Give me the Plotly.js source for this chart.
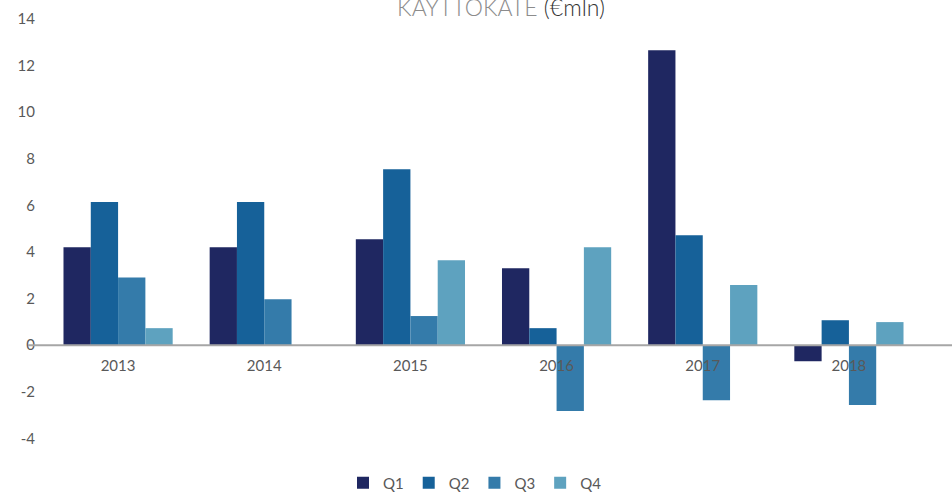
<!DOCTYPE html>
<html>
<head>
<meta charset="utf-8">
<script src="https://cdn.plot.ly/plotly-3.0.1.min.js"></script>
<style>html,body{margin:0;padding:0;background:#fff;}#chart{width:952px;height:493px;}</style>
</head>
<body>
<div id="chart"></div>
<script>
const years = ['2013', '2014', '2015', '2016', '2017', '2018'];
const seriesNames = ['Q1', 'Q2', 'Q3', 'Q4'];
const q1 = [4.2, 4.2, 4.55, 3.3, 12.66, -0.69];
const q2 = [6.15, 6.15, 7.55, 0.73, 4.72, 1.07];
const q3 = [2.9, 1.97, 1.25, -2.83, -2.36, -2.57];
const q4 = [0.73, null, 3.65, 4.2, 2.58, 0.99];
const yTicks = [-4, -2, 0, 2, 4, 6, 8, 10, 12, 14];
const colors = ['#1F2761', '#166199', '#347BAA', '#5EA2BF'];

const values = [q1, q2, q3, q4];
const traces = seriesNames.map((n, i) => ({
  type: 'bar', name: n, x: years, y: values[i],
  marker: {color: colors[i], line: {width: 0}},
  hoverinfo: 'x+y+name'
}));

const L = 45, R = 30, W = 952 - L - R;
const layout = {
  width: 952, height: 493,
  margin: {l: L, r: R, t: 19, b: 43, autoexpand: false},
  paper_bgcolor: '#ffffff', plot_bgcolor: '#ffffff',
  font: {family: 'Lato, "Open Sans", sans-serif', size: 15, color: '#595959'},
  title: {
    text: 'KÄYTTÖKATE <span style="color:#333333">(€mln)</span>',
    font: {size: 23, color: '#8C8C8C', family: 'Lato, "Open Sans", sans-serif', weight: 300},
    x: 501/952, xanchor: 'center', xref: 'container',
    y: 1 - 8/493, yanchor: 'middle', yref: 'container'
  },
  barmode: 'group', bargap: 0.253, bargroupgap: 0,
  xaxis: {
    type: 'category', domain: [0, 1], anchor: 'free', position: 4.5/18.5,
    showline: false, showgrid: false, zeroline: false, ticks: '',
    ticklabelstandoff: 10, automargin: false,
    tickfont: {size: 15, color: '#595959'}
  },
  yaxis: {
    domain: [0, 1], anchor: 'free', position: 0,
    range: [-4.5, 14], tickvals: yTicks, ticktext: yTicks.map(String),
    showgrid: false, zeroline: false, showline: false, ticks: '',
    ticklabelstandoff: 10, automargin: false,
    tickfont: {size: 15, color: '#595959'}
  },
  shapes: [{
    type: 'line', xref: 'paper', yref: 'y', x0: -17/W, x1: 1 + 30/W, y0: 0, y1: 0,
    line: {color: '#A6A6A6', width: 2}, layer: 'above'
  }],
  legend: {
    orientation: 'h', x: (475 - L)/W, xref: 'paper', xanchor: 'center',
    y: -33/431, yanchor: 'middle',
    font: {size: 15, color: '#595959'},
    itemwidth: 30, itemclick: false
  },
  showlegend: true
};

Plotly.newPlot('chart', traces, layout, {displayModeBar: false, staticPlot: true});
</script>
</body>
</html>
